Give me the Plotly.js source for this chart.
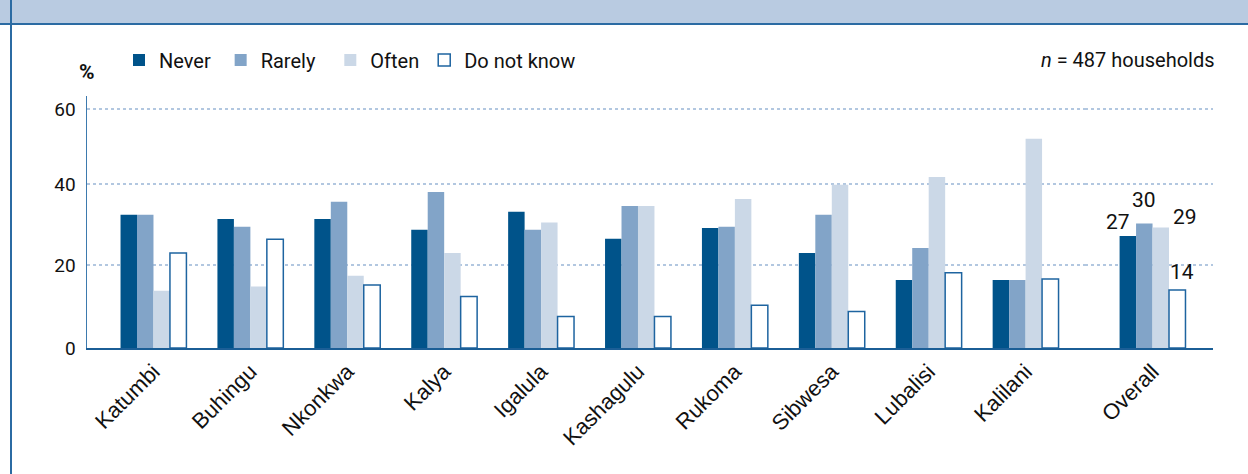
<!DOCTYPE html>
<html>
<head>
<meta charset="utf-8">
<script src="https://cdn.plot.ly/plotly-3.0.1.min.js"></script>
<style>html,body{margin:0;padding:0;background:#fff;}#chart{width:1248px;height:474px;}</style>
</head>
<body>
<div id="chart"></div>
<script>
// ---- data ----
const villages = ['Katumbi','Buhingu','Nkonkwa','Kalya','Igalula','Kashagulu','Rukoma','Sibwesa','Lubalisi','Kalilani'];
const never    = [32.1, 31.1, 31.1, 28.5, 32.8, 26.3, 28.9, 22.9, 16.4, 16.4];
const rarely   = [32.1, 29.2, 35.2, 37.6, 28.5, 34.2, 29.2, 32.1, 24.1, 16.4];
const often    = [13.8, 14.8, 17.4, 22.9, 30.2, 34.2, 35.9, 39.3, 41.2, 50.4];
const dontKnow = [22.9, 26.2, 15.2, 12.4,  7.6,  7.6, 10.3,  8.8, 18.1, 16.6];
const overallCat = ['Overall'];
const overallNever = [27], overallRarely = [30], overallOften = [29], overallDontKnow = [14];
const seriesNames = ['Never','Rarely','Often','Do not know'];
const yTickLabels = ['0','20','40','60'];
const sampleNote = '<i>n</i> = 487 households';

// ---- styles ----
const fills = ['#00538a','#82a4c8','#cbd8e7','#ffffff'];
const outlineDNK = '#1e64a0';
const legendPad = [1, 2, 0, 0]; // trailing spaces for legend item spacing
const villageSeries = [never, rarely, often, dontKnow];
const overallSeries = [overallNever, overallRarely, overallOften, overallDontKnow];

const traces = [];
seriesNames.forEach((name, i) => {
  const line = i === 3 ? {color: outlineDNK, width: 1.5} : {width: 0};
  traces.push({type:'bar', name: name + '\u00a0'.repeat(legendPad[i]), x: villages, y: villageSeries[i], xaxis:'x', yaxis:'y',
    marker:{color: fills[i], line}, legendgroup: name, hoverinfo:'skip'});
});
seriesNames.forEach((name, i) => {
  const line = i === 3 ? {color: outlineDNK, width: 1.5} : {width: 0};
  traces.push({type:'bar', name, x: overallCat, y: overallSeries[i], xaxis:'x2', yaxis:'y',
    marker:{color: fills[i], line}, legendgroup: name, showlegend:false, hoverinfo:'skip'});
});

// plot-area geometry helpers (px -> paper)
const L = 87, R = 1213, T = 96, B = 348;
const px = v => (v - L) / (R - L);
const py = v => (B - v) / (B - T);
const split = px(1085);

const labelFont = {family:'Roboto, sans-serif', size:21, color:'#111'};
const overallShifts = [[-35, 0], [-9, 9], [32, -3], [29, 4]];
const annotations = overallSeries.map((s, i) => ({
  x: overallCat[0], y: s[0], xref:'x2', yref:'y', text: String(s[0]), showarrow:false,
  xanchor:'center', yanchor:'bottom', xshift: overallShifts[i][0], yshift: overallShifts[i][1], font: labelFont
}));
annotations.push({x: px(87), y: py(72), xref:'paper', yref:'paper', text:'<b>%</b>', showarrow:false,
  xanchor:'center', yanchor:'middle', font:{family:'Roboto, sans-serif', size:21, color:'#111'}});
annotations.push({x: px(1217), y: py(60), xref:'paper', yref:'paper', text: sampleNote, showarrow:false,
  xanchor:'right', yanchor:'middle', font:{family:'Roboto, sans-serif', size:20, color:'#111'}});

const borderColor = '#2b6ba3';
const shapes = [
  {type:'rect', xref:'paper', yref:'paper', x0: px(0), x1: px(1248), y0: py(24), y1: py(0), fillcolor:'#b9cbe1', line:{width:0}, layer:'below'},
  {type:'line', xref:'paper', yref:'paper', x0: px(0), x1: px(1248), y0: py(24), y1: py(24), line:{color: borderColor, width:2}},
  {type:'line', xref:'paper', yref:'paper', x0: px(11), x1: px(11), y0: py(0), y1: py(474), line:{color: borderColor, width:2}}
];

const xTickFont = {family:'"Liberation Sans", Arial, sans-serif', size:22, color:'#111'};
const xCommon = {type:'category', showline:true, linecolor:'#1b5e96', linewidth:2, ticks:'', tickangle:-45,
  tickfont: xTickFont, showgrid:false, zeroline:false, fixedrange:true, anchor:'y'};

const layout = {
  width:1248, height:474,
  margin:{l:L, r:1248-R, t:T, b:474-B, pad:0},
  paper_bgcolor:'#ffffff', plot_bgcolor:'rgba(0,0,0,0)',
  barmode:'group', bargap:0.32, bargroupgap:0,
  showlegend:true,
  legend:{orientation:'h', x: px(119), y: py(60), xanchor:'left', yanchor:'middle', xref:'paper', yref:'paper',
    font:{family:'Roboto, sans-serif', size:20, color:'#111'}, traceorder:'normal', bgcolor:'rgba(0,0,0,0)'},
  xaxis: Object.assign({}, xCommon, {domain:[0, split], range:[-0.686, 9.613]}),
  xaxis2: Object.assign({}, xCommon, {domain:[split, 1], range:[-0.697, 0.624]}),
  yaxis: {range:[0, 60.7], tickvals:[0, 20, 39.5, 57.5], ticktext: yTickLabels, showgrid:true,
    gridcolor:'#b2c7e0', griddash:'dot', gridwidth:2, showline:true, linecolor:'#3d7aae', linewidth:1.5,
    zeroline:false, ticks:'', ticklabelstandoff:6, tickfont:{family:'Roboto, sans-serif', size:19, color:'#111'}, fixedrange:true},
  annotations, shapes
};

Plotly.newPlot('chart', traces, layout, {displayModeBar:false, staticPlot:true});
</script>
</body>
</html>
